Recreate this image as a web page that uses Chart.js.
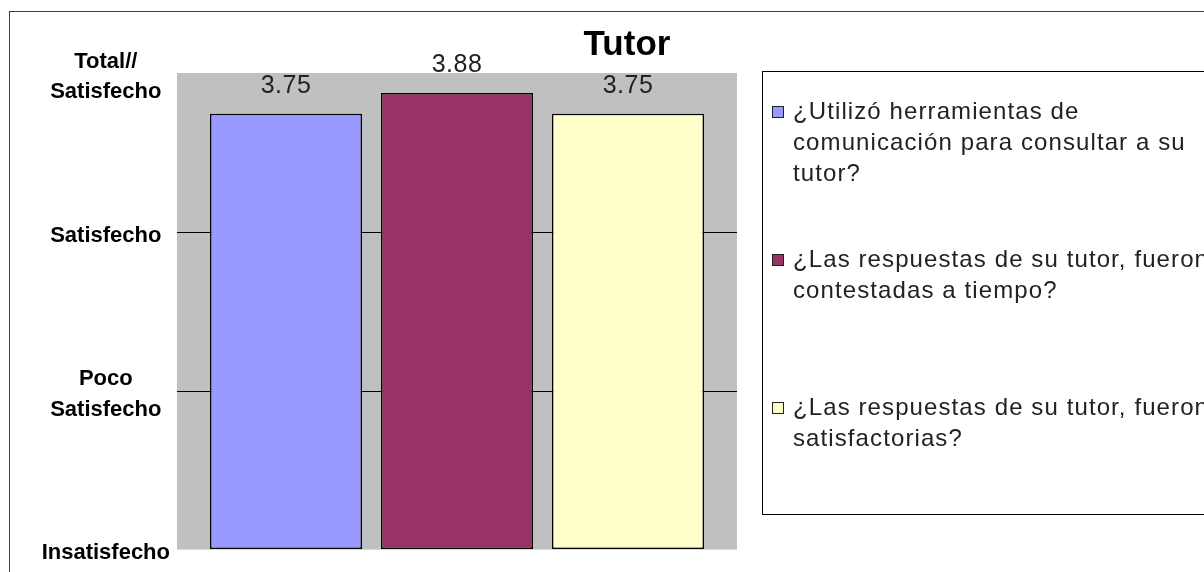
<!DOCTYPE html>
<html>
<head>
<meta charset="utf-8">
<script src="https://cdn.jsdelivr.net/npm/chart.js@4/dist/chart.umd.min.js"></script>
<style>
  html, body { margin: 0; padding: 0; background: #fff; overflow: hidden; }
  #box { width: 1204px; height: 572px; position: relative; }
</style>
</head>
<body>
<div id="box"><canvas id="mycanvas"></canvas></div>
<script>
// chart data
var chartTitle = "Tutor";
var categories = ["Tutor"];
var seriesNames = [
    ["¿Utilizó herramientas de", "comunicación para consultar a su", "tutor?"],
    ["¿Las respuestas de su tutor, fueron", "contestadas a tiempo?"],
    ["¿Las respuestas de su tutor, fueron", "satisfactorias?"]
];
var seriesValues = [3.75, 3.88, 3.75];
var tickValues = [1, 2, 3, 4];
var tickLabels = ["Insatisfecho", ["Poco", "Satisfecho"], "Satisfecho", ["Total//", "Satisfecho"]];

var seriesColors = ["#9999FF", "#993366", "#FFFFCC"];

// extra drawing: plot background, value labels, title, legend box, frame
var decor = {
    id: "decor",
    beforeDraw: function(chart) {
        var ctx = chart.ctx, a = chart.chartArea;
        ctx.save();
        ctx.fillStyle = "#fff";
        ctx.fillRect(0, 0, chart.width, chart.height);
        ctx.fillStyle = "#c0c0c0";
        ctx.fillRect(a.left, a.top - 1, a.right - a.left, a.bottom - a.top + 1);
        ctx.restore();
    },
    afterDatasetsDraw: function(chart) {
        var ctx = chart.ctx;
        ctx.save();
        ctx.font = "25px 'Liberation Sans', Arial, sans-serif";
        ctx.letterSpacing = "0.5px";
        ctx.fillStyle = "#222";
        ctx.textAlign = "center";
        ctx.textBaseline = "alphabetic";
        chart.data.datasets.forEach(function(ds, i) {
            var bar = chart.getDatasetMeta(i).data[0];
            ctx.fillText(ds.data[0].toFixed(2), bar.x, bar.y - 21);
        });
        ctx.restore();
    },
    afterDraw: function(chart) {
        var ctx = chart.ctx;
        ctx.save();

        // title
        ctx.font = "bold 35px 'Liberation Sans', Arial, sans-serif";
        ctx.fillStyle = "#000";
        ctx.textAlign = "center";
        ctx.textBaseline = "alphabetic";
        ctx.fillText(chartTitle, 627, 55);

        // outer frame
        ctx.strokeStyle = "#404040";
        ctx.lineWidth = 1;
        ctx.strokeRect(9.5, 11.5, 1400, 800);

        // legend
        ctx.strokeStyle = "#000";
        ctx.strokeRect(762.5, 71.5, 600, 443);
        ctx.font = "24px 'Liberation Sans', Arial, sans-serif";
        ctx.letterSpacing = "1.1px";
        ctx.textAlign = "left";
        ctx.textBaseline = "middle";
        chart.data.datasets.forEach(function(ds, i) {
            var cy = 112 + i * 148;
            ctx.fillStyle = ds.backgroundColor;
            ctx.fillRect(772.5, cy - 5.5, 11, 11);
            ctx.strokeStyle = "#222";
            ctx.strokeRect(772.5, cy - 5.5, 11, 11);
            ctx.fillStyle = "#222";
            seriesNames[i].forEach(function(line, k) {
                ctx.fillText(line, 793, cy + k * 31);
            });
        });
        ctx.restore();
    }
};

var chartdata = {
    labels: categories,
    datasets: seriesValues.map(function(v, i) {
        return {
            label: seriesNames[i].join(" "),
            data: [v],
            base: tickValues[0],
            backgroundColor: seriesColors[i],
            borderColor: "#000",
            borderWidth: 1.5,
            borderSkipped: false,
            categoryPercentage: 0.916,
            barPercentage: 0.889
        };
    })
};

var ctx = document.getElementById("mycanvas");

var barGraph = new Chart(ctx, {
    type: "bar",
    data: chartdata,
    plugins: [decor],
    options: {
        responsive: true,
        maintainAspectRatio: false,
        devicePixelRatio: 1,
        animation: false,
        layout: {
            padding: { left: 10, right: 467, top: 74, bottom: 22 }
        },
        plugins: {
            legend: { display: false },
            title: { display: false },
            tooltip: { enabled: false }
        },
        scales: {
            x: { display: false },
            y: {
                min: 1,
                max: 4,
                afterFit: function(scale) { scale.width = 167; },
                afterBuildTicks: function(scale) {
                    scale.ticks = tickValues.map(function(v) { return { value: v }; });
                },
                border: { display: false },
                grid: {
                    drawTicks: false,
                    color: function(c) {
                        return (c.tick && (c.tick.value === 2 || c.tick.value === 3)) ? "#000" : "rgba(0,0,0,0)";
                    }
                },
                ticks: {
                    padding: 7,
                    labelOffset: 3,
                    crossAlign: "center",
                    color: "#000",
                    font: { family: "'Liberation Sans', Arial, sans-serif", size: 22, weight: "bold", lineHeight: 1.4 },
                    callback: function(value) {
                        return tickLabels[tickValues.indexOf(value)];
                    }
                }
            }
        }
    }
});
</script>
</body>
</html>
